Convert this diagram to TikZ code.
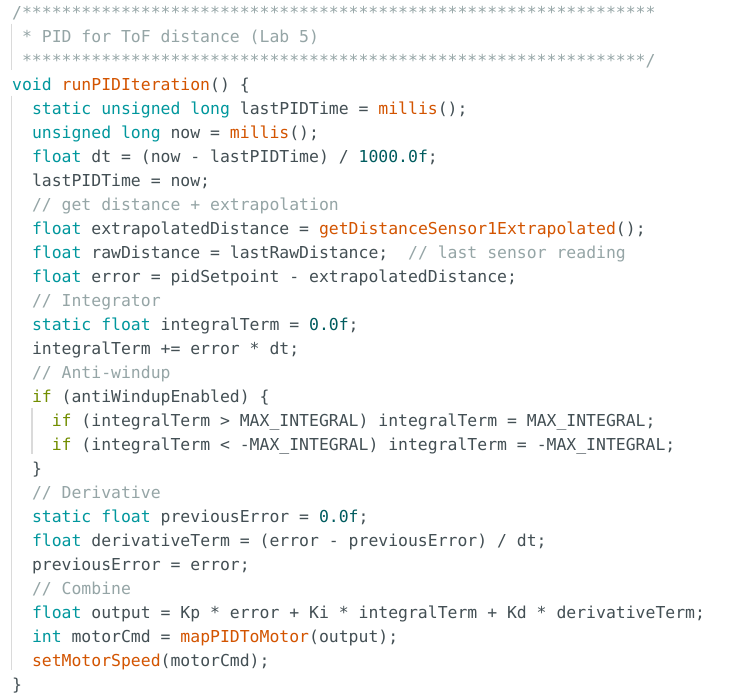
\documentclass[tikz,border=0pt]{standalone}
\usepackage{fontspec}
\setmonofont{DejaVu Sans Mono}
\usepackage{xcolor}
\usepackage{tikz}

\definecolor{ardtxt}{HTML}{434F54}
\definecolor{ardkw}{HTML}{00979D}
\definecolor{ardfn}{HTML}{D35400}
\definecolor{ardctl}{HTML}{728E00}
\definecolor{ardlit}{HTML}{005C5F}
\definecolor{ardcm}{HTML}{95A5A6}
\definecolor{ardguide}{HTML}{DADADA}

\newcommand{\kw}[1]{\textcolor{ardkw}{#1}}
\newcommand{\fn}[1]{\textcolor{ardfn}{#1}}
\newcommand{\ctl}[1]{\textcolor{ardctl}{#1}}
\newcommand{\lit}[1]{\textcolor{ardlit}{#1}}
\newcommand{\cmt}[1]{\textcolor{ardcm}{#1}}
\newcommand{\codefont}{\ttfamily\frenchspacing\fontsize{16.44}{24}\selectfont}

\begin{document}
\begin{tikzpicture}[x=1pt,y=-1pt]
  \tikzset{codeln/.style={anchor=base west,inner sep=0pt,yshift=-1.5pt,text=ardtxt,font=\codefont},
           cmtln/.style={codeln,text=ardcm},
           guide/.style={draw=ardguide,line width=1.5pt}}
  \fill[white] (0,0) rectangle (735,699);
  \useasboundingbox (0,0) rectangle (735,699);
  % indent guides
  \draw[guide] (11.5,23.5) -- (11.5,70);
  \draw[guide] (11.5,95.5) -- (11.5,670);
  \draw[guide] (32,407.5) -- (32,453.5);
  % header comment
  \node[cmtln] (hdrtop) at (12,16.5) {/****************************************************************};
  \node[cmtln] (hdrtitle) at ({12+9.9},40.5) {* PID for ToF distance (Lab 5)};
  \node[cmtln] (hdrbot) at ({12+9.9},64.5) {***************************************************************/};
  % function body
  \node[codeln] (ln3) at (12,88.5) {\kw{void} \fn{runPIDIteration}() \{};
  \node[codeln] (ln4) at ({12+2*9.9},112.5) {\kw{static} \kw{unsigned} \kw{long} lastPIDTime = \fn{millis}();};
  \node[codeln] (ln5) at ({12+2*9.9},136.5) {\kw{unsigned} \kw{long} now = \fn{millis}();};
  \node[codeln] (ln6) at ({12+2*9.9},160.5) {\kw{float} dt = (now - lastPIDTime) / \lit{1000.0f};};
  \node[codeln] (ln7) at ({12+2*9.9},184.5) {lastPIDTime = now;};
  \node[cmtln] (ln8) at ({12+2*9.9},208.5) {// get distance + extrapolation};
  \node[codeln] (ln9) at ({12+2*9.9},232.5) {\kw{float} extrapolatedDistance = \fn{getDistanceSensor1Extrapolated}();};
  \node[codeln] (ln10) at ({12+2*9.9},256.5) {\kw{float} rawDistance = lastRawDistance;~~\cmt{// last sensor reading}};
  \node[codeln] (ln11) at ({12+2*9.9},280.5) {\kw{float} error = pidSetpoint - extrapolatedDistance;};
  \node[cmtln] (ln12) at ({12+2*9.9},304.5) {// Integrator};
  \node[codeln] (ln13) at ({12+2*9.9},328.5) {\kw{static} \kw{float} integralTerm = \lit{0.0f};};
  \node[codeln] (ln14) at ({12+2*9.9},352.5) {integralTerm += error * dt;};
  \node[cmtln] (ln15) at ({12+2*9.9},376.5) {// Anti-windup};
  \node[codeln] (ln16) at ({12+2*9.9},400.5) {\ctl{if} (antiWindupEnabled) \{};
  \node[codeln] (ln17) at ({12+4*9.9},424.5) {\ctl{if} (integralTerm > MAX\_INTEGRAL) integralTerm = MAX\_INTEGRAL;};
  \node[codeln] (ln18) at ({12+4*9.9},448.5) {\ctl{if} (integralTerm < -MAX\_INTEGRAL) integralTerm = -MAX\_INTEGRAL;};
  \node[codeln] (ln19) at ({12+2*9.9},472.5) {\}};
  \node[cmtln] (ln20) at ({12+2*9.9},496.5) {// Derivative};
  \node[codeln] (ln21) at ({12+2*9.9},520.5) {\kw{static} \kw{float} previousError = \lit{0.0f};};
  \node[codeln] (ln22) at ({12+2*9.9},544.5) {\kw{float} derivativeTerm = (error - previousError) / dt;};
  \node[codeln] (ln23) at ({12+2*9.9},568.5) {previousError = error;};
  \node[cmtln] (ln24) at ({12+2*9.9},592.5) {// Combine};
  \node[codeln] (ln25) at ({12+2*9.9},616.5) {\kw{float} output = Kp * error + Ki * integralTerm + Kd * derivativeTerm;};
  \node[codeln] (ln26) at ({12+2*9.9},640.5) {\kw{int} motorCmd = \fn{mapPIDToMotor}(output);};
  \node[codeln] (ln27) at ({12+2*9.9},664.5) {\fn{setMotorSpeed}(motorCmd);};
  \node[codeln] (ln28) at (12,688.5) {\}};
\end{tikzpicture}
\end{document}
